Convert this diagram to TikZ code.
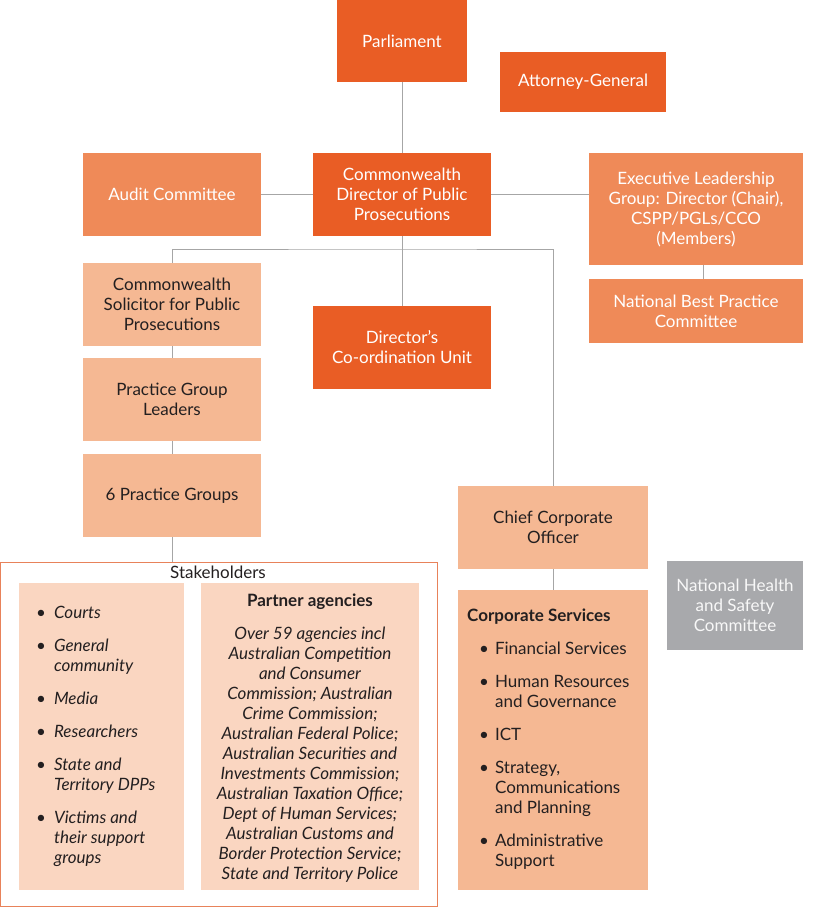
\documentclass[tikz,border=0pt]{standalone}
\usepackage{fontspec}
\setmainfont{Lato}
\usetikzlibrary{positioning}

\definecolor{darkor}{HTML}{E95D25}
\definecolor{midor}{HTML}{EF8A58}
\definecolor{lightor}{HTML}{F5B893}
\definecolor{paleor}{HTML}{FAD6C1}
\definecolor{greybox}{HTML}{A8A9AC}
\definecolor{linegrey}{HTML}{A6A6A6}
\definecolor{textgrey}{HTML}{231F20}
\definecolor{stakeor}{HTML}{E8825A}

\begin{document}
\begin{tikzpicture}[x=1pt, y=-1pt,
  txt/.style={font=\fontsize{17}{20}\selectfont},
  box/.style={txt, minimum width=178pt, minimum height=83pt, inner sep=0pt, align=center},
  darkbox/.style={box, fill=darkor, text=white},
  midbox/.style={box, fill=midor, text=white},
  lightbox/.style={box, fill=lightor, text=textgrey},
  link/.style={draw=linegrey, line width=0.9pt}]
  \useasboundingbox (0,0) rectangle (815,908);

  % top levels
  \node (parl) at (402,41) [darkbox, minimum width=130pt, minimum height=82pt] {Parliament};
  \node (ag) at (583,82) [darkbox, minimum width=166pt, minimum height=60pt] {Attorney-General};
  \node (audit) at (172,194.5) [midbox] {Audit Committee};
  \node (cdpp) at (402,194.5) [darkbox] {Commonwealth\\Director of Public\\Prosecutions};
  \node (elg) at (696,209) [midbox, minimum width=214pt, minimum height=112pt] {Executive Leadership\\Group: Director (Chair),\\CSPP/PGLs/CCO\\(Members)};
  \node (nbpc) at (696,311) [midbox, minimum width=214pt, minimum height=64pt] {National Best Practice\\Committee};

  % left column
  \node (cspp) at (172,304.5) [lightbox] {Commonwealth\\Solicitor for Public\\Prosecutions};
  \node (pgl) at (172,399.5) [lightbox] {Practice Group\\Leaders};
  \node (pg6) at (172,495.5) [lightbox] {6 Practice Groups};
  \node (dcu) at (402,347.5) [darkbox] {Director's\\Co-ordination Unit};

  % right column
  \node (cco) at (553,527.5) [lightbox, minimum width=190pt] {Chief Corporate\\Officer};
  \node (nhsc) at (735,605.5) [box, fill=greybox, text=white!92!greybox, minimum width=136pt, minimum height=89pt] {National Health\\and Safety\\Committee};
  \node (corp) at (553,740) [lightbox, minimum width=190pt, minimum height=300pt] {};
  \node (corptext) at (467,740) [txt, anchor=west, inner sep=0pt, text=textgrey] {%
    \begin{tabular}{@{\hspace{12pt}}l@{\hspace{6pt}}l@{}}
      \multicolumn{2}{@{}l@{}}{\bfseries Corporate Services}\\[13pt]
      • & Financial Services\\[13pt]
      • & Human Resources\\
        & and Governance\\[13pt]
      • & ICT\\[13pt]
      • & Strategy,\\
        & Communications\\
        & and Planning\\[13pt]
      • & Administrative\\
        & Support
    \end{tabular}};

  % stakeholders
  \node (stake) at (218.5,734) [draw=stakeor, line width=1pt, minimum width=437pt, minimum height=344pt] {};
  \node (stakelbl) at (218,572) [txt, text=textgrey, inner sep=0pt] {Stakeholders};
  \node (courts) at (101.5,736.5) [fill=paleor, minimum width=165pt, minimum height=307pt] {};
  \node (courtstext) at (36,737) [txt, anchor=west, inner sep=0pt, text=textgrey] {%
    \begin{tabular}{@{}l@{\hspace{8pt}}l@{}}
      • & \itshape Courts\\[13pt]
      • & \itshape General\\
        & \itshape community\\[13pt]
      • & \itshape Media\\[13pt]
      • & \itshape Researchers\\[13pt]
      • & \itshape State and\\
        & \itshape Territory DPPs\\[13pt]
      • & \itshape Victims and\\
        & \itshape their support\\
        & \itshape groups
    \end{tabular}};
  \node (partner) at (310,736.5) [fill=paleor, minimum width=218pt, minimum height=307pt] {};
  \node (partnertext) at (310,738) [txt, align=center, inner sep=0pt, text=textgrey] {%
    \textbf{Partner agencies}\\[13pt]
    \itshape Over 59 agencies incl\\ \itshape Australian Competition\\ \itshape and Consumer\\
    \itshape Commission; Australian\\ \itshape Crime Commission;\\ \itshape Australian Federal Police;\\
    \itshape Australian Securities and\\ \itshape Investments Commission;\\ \itshape Australian Taxation Office;\\
    \itshape Dept of Human Services;\\ \itshape Australian Customs and\\ \itshape Border Protection Service;\\
    \itshape State and Territory Police};

  % connectors
  \coordinate (split) at (402,249);
  \draw [link] (parl) -- (cdpp);
  \draw [link] (audit) -- (cdpp);
  \draw [link] (cdpp.east) -- (cdpp.east -| elg.west);
  \draw [link] ([xshift=7pt]elg.south) -- ([xshift=7pt]nbpc.north);
  \draw [link] (cdpp) -- (dcu);
  \draw [link] (cspp.north) |- (split) -| (cco.north);
  \draw [link] (cspp) -- (pgl);
  \draw [link] (pgl) -- (pg6);
  \draw [link] (pg6.south) -- (pg6.south |- stake.north);
  \draw [link] (cco) -- (corp);
\end{tikzpicture}
\end{document}
